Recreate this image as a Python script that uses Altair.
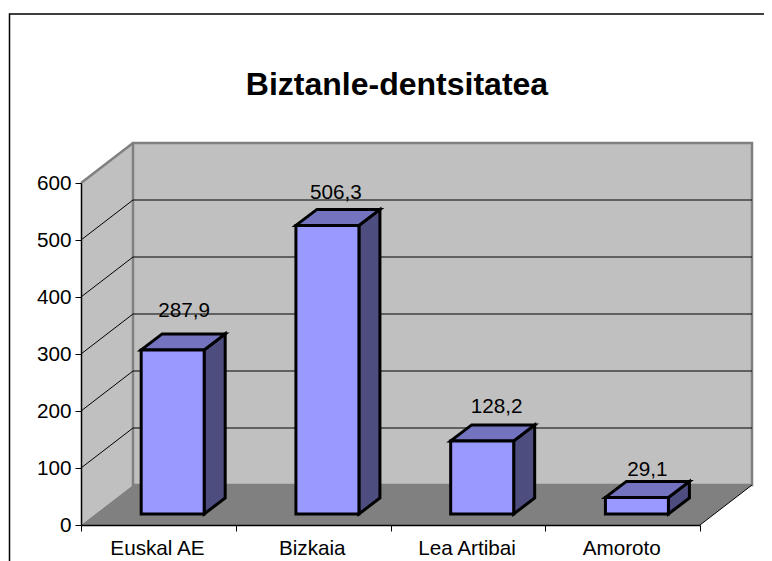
import altair as alt
import pandas as pd

# values
categories = ["Euskal AE", "Bizkaia", "Lea Artibai", "Amoroto"]
values = [287.9, 506.3, 128.2, 29.1]
labels = ["287,9", "506,3", "128,2", "29,1"]
y_ticks = [0, 100, 200, 300, 400, 500, 600]
title_text = "Biztanle-dentsitatea"

# pixel layout of the plot (front plane of the 3D box)
W, H = 619, 342
PX = 4 / W          # category units per pixel
PV = 600 / H        # value units per pixel
DEPTH_X, DEPTH_Y = 52 * PX, 40 * PV          # wall depth
BAR_SHIFT_X, BAR_SHIFT_Y = 14.3 * PX, 11 * PV   # bars stand inside the floor
BAR_W = 63 * PX
BAR_DX, BAR_DY = 21 * PX, 16 * PV            # bar depth
LABEL_NUDGE_X = [43, 40, 46, 42]             # label centre from bar front-left, px
LABEL_NUDGE_Y = [23, 16, 18, 11]             # label centre above bar back edge, px
FRAME_L, FRAME_T, FRAME_R, FRAME_B = -71.5 * PX, 511 * PV, 691 * PX, -36 * PV

FONT = "Liberation Sans"
TEXT = 20.7
names = categories + [""]
label_expr = "[" + ",".join(f"'{n}'" for n in names) + "][datum.value]"
X = alt.X("x:Q", scale=alt.Scale(domain=[0, 4], range=[0, W], nice=False, zero=False),
          axis=alt.Axis(values=[0, 1, 2, 3, 4], labelExpr=label_expr, title=None,
                        grid=False, tickSize=6, tickColor="#000000", domainColor="#000000",
                        domainWidth=1.5, labelColor="#000000", labelFont=FONT,
                        labelFontSize=TEXT, labelOffset=76, labelAlign="center",
                        labelPadding=7, labelOverlap=False, labelBound=False,
                        labelFlush=False, zindex=1))
Y = alt.Y("y:Q", scale=alt.Scale(domain=[0, 600], range=[H, 0], nice=False, zero=False),
          axis=alt.Axis(values=y_ticks, title=None, grid=False, tickSize=6,
                        tickColor="#000000", domainColor="#000000", domainWidth=1.5,
                        labelColor="#000000", labelFont=FONT, labelFontSize=TEXT,
                        labelPadding=4, labelOverlap=False, labelBound=False,
                        labelFlush=False, zindex=1))


def poly(rows, fill, stroke=None, width=0):
    """rows: list of polygons, each a list of (x, y) in data units."""
    recs = []
    for p, pts in enumerate(rows):
        for k, (x, y) in enumerate(pts):
            recs.append({"x": x, "y": y, "p": p, "k": k})
    kw = dict(interpolate="linear-closed", fill=fill, filled=False,
              stroke=stroke if stroke else fill,
              strokeWidth=width, strokeJoin="miter", strokeCap="butt")
    return alt.Chart(pd.DataFrame(recs)).mark_line(**kw).encode(
        x=X, y=Y, detail="p:N", order="k:Q")


def segs(rows, color, width):
    recs = []
    for p, pts in enumerate(rows):
        for k, (x, y) in enumerate(pts):
            recs.append({"x": x, "y": y, "p": p, "k": k})
    return alt.Chart(pd.DataFrame(recs)).mark_line(
        color=color, strokeWidth=width, strokeCap="butt").encode(
        x=X, y=Y, detail="p:N", order="k:Q")


dx, dy = DEPTH_X, DEPTH_Y
side_wall = poly([[(0, 0), (0, 600), (dx, 600 + dy), (dx, dy)]], "#C0C0C0")
side_edge = segs([[(0, 600), (dx, 600 + dy)]], "#808080", 2.5)
back_wall = poly([[(dx, dy), (dx, 600 + dy), (4 + dx, 600 + dy), (4 + dx, dy)]],
                 "#C0C0C0", "#808080", 2.5)
floor = poly([[(0, 0), (dx, dy), (4 + dx, dy), (4, 0)]], "#808080")
floor_edge = segs([[(4, 0), (4 + dx, dy)]], "#000000", 1)

grid = [t for t in y_ticks if 0 < t < 600]
grid_back = segs([[(dx, t + dy), (4 + dx, t + dy)] for t in grid], "#000000", 1.2)
grid_side = segs([[(0, t), (dx, t + dy)] for t in grid], "#000000", 1)

fronts, tops, sides = [], [], []
for i, v in enumerate(values):
    x0 = i + 0.5 - BAR_W / 2 + BAR_SHIFT_X
    x1 = x0 + BAR_W
    b = BAR_SHIFT_Y
    t = v + BAR_SHIFT_Y
    fronts.append([(x0, b), (x0, t), (x1, t), (x1, b)])
    tops.append([(x0, t), (x0 + BAR_DX, t + BAR_DY), (x1 + BAR_DX, t + BAR_DY), (x1, t)])
    sides.append([(x1, b), (x1, t), (x1 + BAR_DX, t + BAR_DY), (x1 + BAR_DX, b + BAR_DY)])

STROKE = 3
bar_side = poly(sides, "#4D4D80", "#000000", STROKE)
bar_top = poly(tops, "#7373BF", "#000000", STROKE)
bar_front = poly(fronts, "#9999FF", "#000000", STROKE)

label_df = pd.DataFrame({
    "x": [i + 0.5 - BAR_W / 2 + BAR_SHIFT_X + nx * PX
          for i, nx in enumerate(LABEL_NUDGE_X)],
    "y": [v + BAR_SHIFT_Y + BAR_DY + ny * PV
          for v, ny in zip(values, LABEL_NUDGE_Y)],
    "t": labels,
})
value_labels = alt.Chart(label_df).mark_text(
    font=FONT, fontSize=TEXT, color="#000000", align="center", baseline="middle"
).encode(x=X, y=Y, text="t:N")

frame = segs([[(FRAME_L, FRAME_B), (FRAME_L, FRAME_T), (FRAME_R, FRAME_T)]],
             "#000000", 1.5)

chart = alt.layer(
    frame, side_wall, side_edge, back_wall, floor, floor_edge,
    grid_back, grid_side, bar_side, bar_top, bar_front, value_labels,
).properties(
    width=W, height=H,
    padding={"left": 73, "top": 175, "right": 64, "bottom": 36},
    autosize=alt.AutoSizeParams(type="none"),
    background="#FFFFFF",
    title=alt.TitleParams(title_text, font=FONT, fontSize=32, fontWeight="bold",
                          color="#000000", anchor="middle", dx=6.5, offset=0, dy=91),
).configure_view(stroke=None)

chart.save("out.html", embed_options={"renderer": "svg", "actions": False})
